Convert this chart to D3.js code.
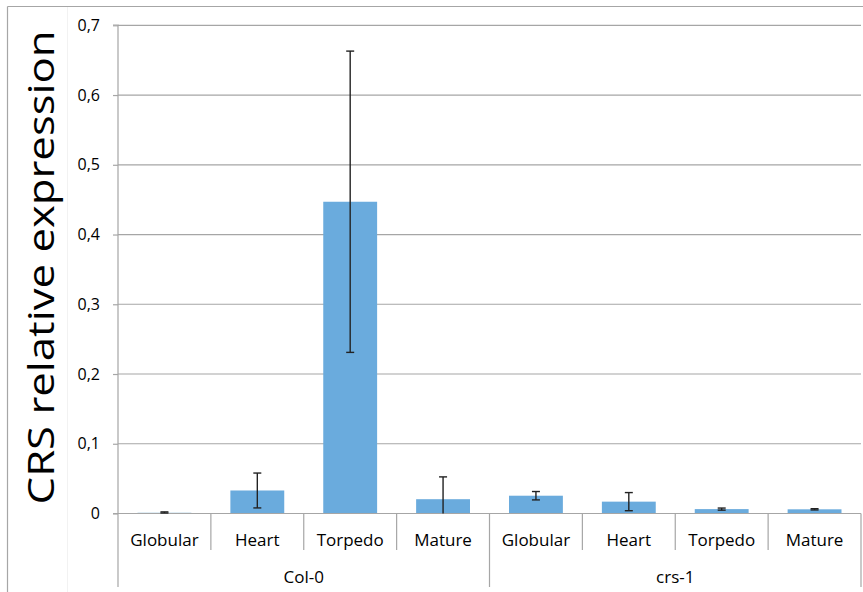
<!DOCTYPE html>
<html><head><meta charset="utf-8">
<script src="https://cdn.jsdelivr.net/npm/d3@7"></script>
<style>body{margin:0;background:#fff}svg{display:block}text{font-family:"Open Sans",sans-serif;fill:#000}</style>
</head><body>
<script>
const groups = ["Col-0", "crs-1"];
const stages = ["Globular", "Heart", "Torpedo", "Mature"];
const values = [0.0015, 0.033, 0.447, 0.0205, 0.0255, 0.017, 0.0063, 0.006];
const errors = [0.0008, 0.025, 0.216, 0.032, 0.006, 0.013, 0.0015, 0.0009];
const yTicks = [0, 0.1, 0.2, 0.3, 0.4, 0.5, 0.6, 0.7];
const yLabel = "CRS relative expression";

const W = 863, H = 592;
const m = {left: 118, right: 2, top: 25.3, bottom: 78.5};
const svg = d3.select("body").append("svg").attr("width", W).attr("height", H);

const rows = [];
groups.forEach((g, gi) => stages.forEach((s, si) => rows.push({g, s, key: g + "|" + s, v: values[gi*4+si], e: errors[gi*4+si]})));

const x = d3.scaleBand().domain(rows.map(d => d.key)).range([m.left, 861]).paddingInner(0.42).paddingOuter(0.21);
const xb = d3.scaleBand().domain(rows.map(d => d.key)).range([m.left, 861]);
const y = d3.scaleLinear().domain([0, 0.7]).range([H - m.bottom, m.top]);

// outer frame
svg.append("line").attr("x1", 7.5).attr("x2", W).attr("y1", 6.5).attr("y2", 6.5).attr("stroke", "#a6a6a6").attr("stroke-width", 1.2);
svg.append("line").attr("x1", 7.5).attr("x2", 7.5).attr("y1", 6.5).attr("y2", H).attr("stroke", "#a6a6a6").attr("stroke-width", 1.2);
svg.append("line").attr("x1", 67.5).attr("x2", 67.5).attr("y1", 7).attr("y2", H).attr("stroke", "#f2f2f2").attr("stroke-width", 1);

// gridlines
svg.append("g").selectAll("line").data(yTicks.slice(1)).join("line")
  .attr("x1", m.left).attr("x2", 861).attr("y1", d => y(d)).attr("y2", d => y(d))
  .attr("stroke", "#a6a6a6").attr("stroke-width", 1.2);

// y axis
const ya = svg.append("g").attr("transform", `translate(${m.left},0)`)
  .call(d3.axisLeft(y).tickValues(yTicks).tickSize(5).tickPadding(13).tickFormat(d => d3.format(".1f")(d).replace(".", ",").replace(/^0,0$/, "0")));
ya.select(".domain").attr("stroke", "#a6a6a6").attr("stroke-width", 1.2).attr("d", `M-5,${y(0)}H0V${m.top-0.3}H-5`);
ya.selectAll(".tick line").attr("stroke", "#a6a6a6").attr("stroke-width", 1.2);
ya.selectAll(".tick text").attr("font-size", 16).attr("font-family", "Open Sans");

// bars
svg.append("g").selectAll("rect").data(rows).join("rect")
  .attr("x", d => x(d.key)).attr("width", x.bandwidth())
  .attr("y", d => y(d.v)).attr("height", d => y(0) - y(d.v))
  .attr("fill", (d, i) => i === 0 ? "#c5dcec" : "#6aabdd");

// baseline
svg.append("line").attr("x1", m.left - 5).attr("x2", 861).attr("y1", y(0)).attr("y2", y(0)).attr("stroke", "#a6a6a6").attr("stroke-width", 1.2);

// error bars
const eb = svg.append("g").attr("stroke", "#222").attr("stroke-width", 1.4);
rows.forEach(d => {
  const cx = x(d.key) + x.bandwidth()/2;
  const lo = Math.max(0, d.v - d.e), hi = d.v + d.e;
  eb.append("line").attr("x1", cx).attr("x2", cx).attr("y1", y(lo)).attr("y2", y(hi));
  eb.append("line").attr("x1", cx - 4).attr("x2", cx + 4).attr("y1", y(hi)).attr("y2", y(hi));
  if (d.v - d.e > 0) eb.append("line").attr("x1", cx - 4).attr("x2", cx + 4).attr("y1", y(lo)).attr("y2", y(lo));
});

// category axis
const base = y(0);
const sep = svg.append("g").attr("stroke", "#a6a6a6").attr("stroke-width", 1.2);
rows.forEach((d, i) => {
  const xl = xb(d.key);
  const isGroup = i % 4 === 0;
  sep.append("line").attr("x1", xl).attr("x2", xl).attr("y1", base).attr("y2", isGroup ? 587 : 550);
});
sep.append("line").attr("x1", 861).attr("x2", 861).attr("y1", base).attr("y2", 587);

svg.append("g").selectAll("text").data(rows).join("text")
  .attr("x", d => xb(d.key) + xb.bandwidth()/2).attr("y", 546)
  .attr("text-anchor", "middle").attr("font-size", 17).text(d => d.s);

svg.append("g").selectAll("text").data(groups).join("text")
  .attr("x", (g, gi) => (xb(rows[gi*4].key) + xb(rows[gi*4+3].key) + xb.bandwidth())/2).attr("y", 583)
  .attr("text-anchor", "middle").attr("font-size", 17).text(d => d);

// y label
svg.append("text").attr("transform", `translate(54,${(y(0)+m.top)/2 - 2}) rotate(-90)`)
  .attr("text-anchor", "middle").attr("font-size", 36)
  .attr("textLength", 474).attr("lengthAdjust", "spacingAndGlyphs").text(yLabel);
</script>
</body></html>
